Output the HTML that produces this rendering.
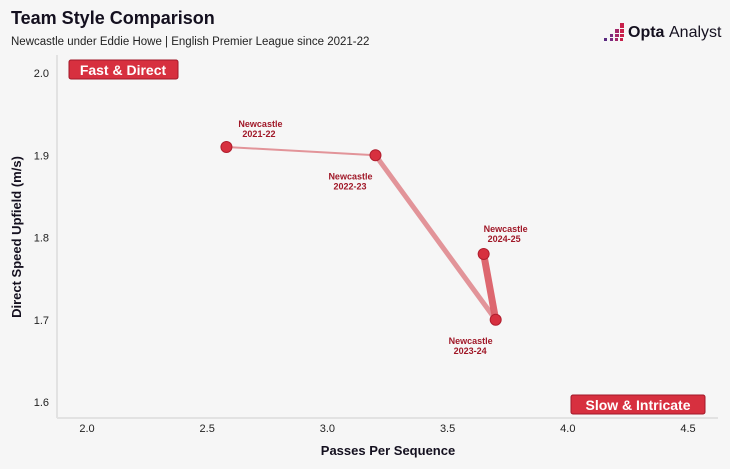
<!DOCTYPE html>
<html><head><meta charset="utf-8"><style>
body{margin:0;width:730px;height:469px;background:#f6f6f6;font-family:"Liberation Sans",sans-serif;overflow:hidden}
</style></head><body>
<svg width="730" height="469" style="position:absolute;left:0;top:0">
<text x="11" y="24" font-size="18" font-weight="bold" fill="#14101f">Team Style Comparison</text>
<text x="11" y="45" font-size="11.5" fill="#222">Newcastle under Eddie Howe | English Premier League since 2021-22</text>
<g>
<rect x="620" y="23" width="4" height="5" fill="#c8204a"/><rect x="615" y="29" width="4" height="4" fill="#a3286a"/><rect x="620" y="29" width="4" height="4" fill="#c8204a"/>
<rect x="610" y="34" width="3" height="3" fill="#7a2a80"/><rect x="615" y="34" width="4" height="3" fill="#a3286a"/><rect x="620" y="34" width="4" height="3" fill="#c8204a"/>
<rect x="604" y="38" width="3" height="3" fill="#5a2a80"/><rect x="610" y="38" width="3" height="3" fill="#7a2a80"/><rect x="615" y="38" width="3" height="3" fill="#a3286a"/><rect x="620" y="38" width="3" height="3" fill="#c8204a"/>
<text x="628" y="37" font-size="16" font-weight="bold" fill="#14101f">Opta</text>
<text x="669" y="37" font-size="16" fill="#14101f">Analyst</text>
</g>
<line x1="57" y1="55" x2="57" y2="418" stroke="#e2e2e2" stroke-width="2"/>
<line x1="57" y1="418" x2="718" y2="418" stroke="#e2e2e2" stroke-width="2"/>
<g id="ticks"></g>
<text x="388" y="455" font-size="13" font-weight="bold" text-anchor="middle" fill="#14101f">Passes Per Sequence</text>
<text transform="translate(21,237) rotate(-90)" font-size="13" font-weight="bold" text-anchor="middle" fill="#14101f">Direct Speed Upfield (m/s)</text>
<g><rect x="69" y="60" width="109" height="19" rx="2" fill="#d7303f" stroke="#a01828"/><text x="123" y="75" font-size="14" font-weight="bold" fill="#fff" text-anchor="middle">Fast &amp; Direct</text></g>
<g><rect x="571" y="395" width="134" height="19" rx="2" fill="#d7303f" stroke="#a01828"/><text x="638" y="410" font-size="14" font-weight="bold" fill="#fff" text-anchor="middle">Slow &amp; Intricate</text></g>
<g id="series"></g>
</svg>
<script>
const seasons=["2021-22","2022-23","2023-24","2024-25"];
const passes=[2.58,3.2,3.70,3.65];
const speed=[1.91,1.90,1.70,1.78];
const xTicks=["2.0","2.5","3.0","3.5","4.0","4.5"];
const yTicks=["1.6","1.7","1.8","1.9","2.0"];
const xs=v=>87+(v-2)*240.4, ys=v=>73+(2-v)*822.5;
const NS="http://www.w3.org/2000/svg";
function mk(t,a,p){const e=document.createElementNS(NS,t);for(const k in a)e.setAttribute(k,a[k]);p.appendChild(e);return e;}
const tk=document.getElementById('ticks');
xTicks.forEach(t=>{const e=mk('text',{x:xs(+t),y:432,'font-size':11,'text-anchor':'middle',fill:'#222'},tk);e.textContent=t;

});
yTicks.forEach(t=>{const e=mk('text',{x:49,y:ys(+t)+4,'font-size':11,'text-anchor':'end',fill:'#222'},tk);e.textContent=t;

});
const g=document.getElementById('series');
const widths=[2,5,7];
for(let i=0;i<passes.length-1;i++){const l=mk('line',{x1:xs(passes[i]),y1:ys(speed[i]),x2:xs(passes[i+1]),y2:ys(speed[i+1]),stroke:'#e08a90','stroke-width':widths[i],'stroke-linecap':'round',opacity:i==2?0.95:0.9},g);
if(i==2)l.setAttribute('stroke','#dc6068');

}
const lo=[[12,-20,'start'],[-3,24,'end'],[-3,24,'end'],[0,-22,'start']];
passes.forEach((p,i)=>{const cx=xs(p),cy=ys(speed[i]);
const c=mk('circle',{cx:cx,cy:cy,r:5.5,fill:'#d7303f',stroke:'#b01e2e','stroke-width':1},g);


const [dx,dy,an]=lo[i];
const t=mk('text',{x:cx+dx,y:cy+dy,'font-size':9,'font-weight':'bold',fill:'#a01828','text-anchor':an},g);
t.innerHTML='<tspan x="'+(cx+dx)+'">Newcastle</tspan><tspan x="'+(cx+dx+(an=='start'?4:-6))+'" dy="10">'+seasons[i]+'</tspan>';

});
</script>
</body></html>
